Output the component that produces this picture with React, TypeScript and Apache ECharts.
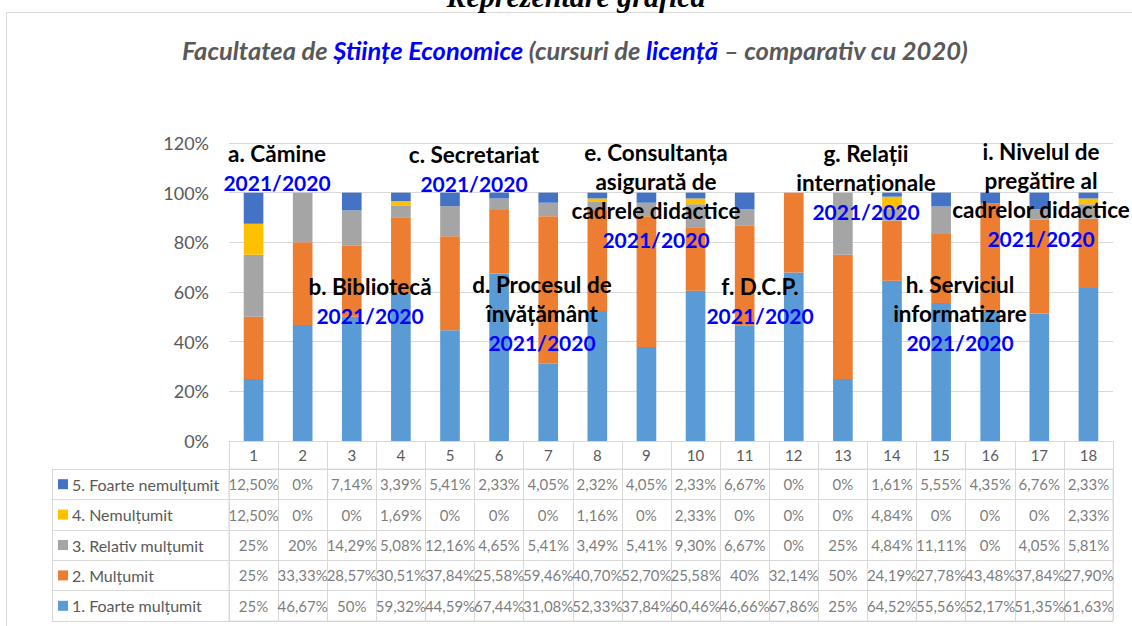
import React, { useEffect, useRef } from "react";
import * as echarts from "echarts";

// ---------- DATA ----------
const categories = ["1", "2", "3", "4", "5", "6", "7", "8", "9", "10", "11", "12", "13", "14", "15", "16", "17", "18"];

const seriesNames = [
  "1. Foarte mulțumit",
  "2. Mulțumit",
  "3. Relativ mulțumit",
  "4. Nemulțumit",
  "5. Foarte nemulțumit",
];

const foarteMultumit = [25, 46.67, 50, 59.32, 44.59, 67.44, 31.08, 52.33, 37.84, 60.46, 46.66, 67.86, 25, 64.52, 55.56, 52.17, 51.35, 61.63];
const multumit = [25, 33.33, 28.57, 30.51, 37.84, 25.58, 59.46, 40.7, 52.7, 25.58, 40, 32.14, 50, 24.19, 27.78, 43.48, 37.84, 27.9];
const relativMultumit = [25, 20, 14.29, 5.08, 12.16, 4.65, 5.41, 3.49, 5.41, 9.3, 6.67, 0, 25, 4.84, 11.11, 0, 4.05, 5.81];
const nemultumit = [12.5, 0, 0, 1.69, 0, 0, 0, 1.16, 0, 2.33, 0, 0, 0, 4.84, 0, 0, 0, 2.33];
const foarteNemultumit = [12.5, 0, 7.14, 3.39, 5.41, 2.33, 4.05, 2.32, 4.05, 2.33, 6.67, 0, 0, 1.61, 5.55, 4.35, 6.76, 2.33];

const seriesValues = [foarteMultumit, multumit, relativMultumit, nemultumit, foarteNemultumit];

const yMin = 0;
const yMax = 120;
const yStep = 20;

const titleText = "Reprezentare grafică";
const subtitleParts = [
  { t: "Facultatea de ", blue: false },
  { t: "Științe Economice", blue: true },
  { t: " (cursuri de ", blue: false },
  { t: "licență", blue: true },
  { t: " – comparativ cu 2020)", blue: false },
];

const annotationTitles = [
  ["a. Cămine"],
  ["b. Bibliotecă"],
  ["c. Secretariat"],
  ["d. Procesul de", "învățământ"],
  ["e. Consultanța", "asigurată de", "cadrele didactice"],
  ["f. D.C.P."],
  ["g. Relații", "internaționale"],
  ["h. Serviciul", "informatizare"],
  ["i. Nivelul de", "pregătire al", "cadrelor didactice"],
];
const yearLabel = "2021/2020";

// ---------- LAYOUT / STYLE ----------
const W = 1132;
const H = 626;
const colors = ["#5B9BD5", "#ED7D31", "#A5A5A5", "#FFC000", "#4472C4"];
const gray = "#595959";
const lineGray = "#D9D9D9";
const blue = "#0000FF";
const font = "Lato, 'Liberation Sans', sans-serif";

const plotLeft = 229;
const plotRight = 1113;
const plotTop = 143;
const plotBottom = 441;
const headerH = 28;
const tableTop = plotBottom + headerH;
const tableBottom = 621;
const legendColLeft = 52;

// anchor (center x, center y of first line) for each annotation
const annotationAnchors = [
  [277, 153],
  [370, 286],
  [474, 154],
  [542, 284],
  [656, 152],
  [760, 286],
  [866, 153],
  [960, 284],
  [1041, 151],
];
const annotationLineH = 29.3;

function fmt(v: number): string {
  if (Math.round(v) === v) return v + "%";
  return v.toFixed(2).replace(".", ",") + "%";
}

export default function App() {
  const ref = useRef<HTMLDivElement>(null);

  useEffect(() => {
    if (!ref.current) return;
    const chart = echarts.init(ref.current, undefined, { renderer: "svg" });

    // table rows top-down: 5,4,3,2,1
    const rowOrder = [4, 3, 2, 1, 0];
    const rowNames = rowOrder.map((k) => seriesNames[k]);
    const tableData: any[] = [];
    rowOrder.forEach((k, r) => {
      seriesValues[k].forEach((v, i) => {
        tableData.push([i, r, fmt(v)]);
      });
    });

    const rich: any = {
      t: { fontSize: 16, color: gray, fontFamily: font, padding: [0, 0, 0, 4] },
    };
    rowOrder.forEach((k, r) => {
      rich["k" + r] = { width: 10, height: 10, backgroundColor: colors[k] };
    });

    const barSeries = seriesNames.map((name, k) => ({
      name,
      type: "bar",
      stack: "total",
      xAxisIndex: 0,
      yAxisIndex: 0,
      barWidth: "40%",
      data: seriesValues[k],
      itemStyle: { color: colors[k] },
    }));

    const graphics: any[] = [
      {
        type: "rect",
        silent: true,
        shape: { x: 6.5, y: 12.5, width: 1300, height: 800 },
        style: { fill: "none", stroke: lineGray, lineWidth: 1 },
      },
      {
        type: "text",
        x: W / 2 + 10,
        y: -4,
        style: {
          text: titleText,
          fill: "#000",
          fontSize: 30,
          fontWeight: "bold",
          fontStyle: "italic",
          fontFamily: "'Liberation Serif', 'Times New Roman', serif",
          align: "center",
          verticalAlign: "middle",
        },
      },
      {
        type: "text",
        x: 575,
        y: 50,
        style: {
          text: subtitleParts.map((p) => `{${p.blue ? "b" : "g"}|${p.t}}`).join(""),
          align: "center",
          verticalAlign: "middle",
          rich: {
            g: { fill: gray, fontSize: 25.5, fontWeight: "bold", fontStyle: "italic", fontFamily: font },
            b: { fill: blue, fontSize: 25.5, fontWeight: "bold", fontStyle: "italic", fontFamily: font },
          },
        },
      },
      {
        type: "line",
        silent: true,
        shape: { x1: legendColLeft + 0.5, y1: tableTop, x2: legendColLeft + 0.5, y2: tableBottom },
        style: { stroke: lineGray, lineWidth: 1 },
      },
    ];

    annotationTitles.forEach((lines, a) => {
      const [cx, cy] = annotationAnchors[a];
      const all = [...lines, yearLabel];
      all.forEach((ln, j) => {
        const isYear = j === all.length - 1;
        graphics.push({
          type: "text",
          x: cx,
          y: cy + j * annotationLineH,
          z: 100,
          style: {
            text: ln,
            fill: isYear ? blue : "#000",
            fontSize: isYear ? 21 : 22.5,
            fontWeight: "bold",
            fontFamily: font,
            align: "center",
            verticalAlign: "middle",
          },
        });
      });
    });

    chart.setOption({
      animation: false,
      backgroundColor: "#fff",
      grid: [
        {
          left: plotLeft,
          right: W - plotRight,
          top: plotTop,
          bottom: H - plotBottom,
        },
        {
          left: plotLeft,
          right: W - plotRight,
          top: tableTop,
          bottom: H - tableBottom,
          show: true,
          borderColor: lineGray,
          borderWidth: 1,
          backgroundColor: "transparent",
        },
      ],
      xAxis: [
        {
          type: "category",
          gridIndex: 0,
          data: categories,
          boundaryGap: true,
          axisLine: { show: true, lineStyle: { color: lineGray, width: 1 } },
          axisTick: { show: true, interval: 0, length: headerH, lineStyle: { color: lineGray } },
          axisLabel: { interval: 0, margin: 6, fontSize: 15, color: gray, fontFamily: font },
          splitLine: { show: false },
        },
        {
          type: "category",
          gridIndex: 1,
          data: categories,
          boundaryGap: true,
          axisLine: { show: false },
          axisTick: { show: false },
          axisLabel: { show: false },
          splitLine: { show: true, interval: 0, lineStyle: { color: lineGray, width: 1 } },
        },
      ],
      yAxis: [
        {
          type: "value",
          gridIndex: 0,
          min: yMin,
          max: yMax,
          interval: yStep,
          axisLine: { show: false },
          axisTick: { show: false },
          axisLabel: { formatter: "{value}%", fontSize: 18, color: gray, margin: 20, fontFamily: font },
          splitLine: { show: true, lineStyle: { color: lineGray, width: 1 } },
        },
        {
          type: "category",
          gridIndex: 1,
          data: rowNames,
          inverse: true,
          boundaryGap: true,
          axisLine: { show: true, lineStyle: { color: lineGray, width: 1 } },
          axisTick: { show: true, interval: 0, length: plotLeft - legendColLeft, lineStyle: { color: lineGray } },
          axisLabel: {
            interval: 0,
            align: "left",
            margin: plotLeft - legendColLeft - 6,
            formatter: (val: string, idx: number) => `{k${idx}| }{t|${val}}`,
            rich,
          },
          splitLine: { show: true, interval: 0, lineStyle: { color: lineGray, width: 1 } },
        },
      ],
      series: [
        ...barSeries,
        {
          type: "scatter",
          xAxisIndex: 1,
          yAxisIndex: 1,
          symbolSize: 1,
          itemStyle: { color: "rgba(0,0,0,0)" },
          data: tableData,
          label: {
            show: true,
            position: "inside",
            formatter: (p: any) => p.value[2],
            fontSize: 15,
            color: gray,
            fontFamily: font,
          },
          silent: true,
        },
      ],
      graphic: graphics,
    });

    return () => chart.dispose();
  }, []);

  return (
    <div
      ref={ref}
      style={{ position: "absolute", left: 0, top: 0, width: W, height: H, background: "#fff" }}
    />
  );
}
